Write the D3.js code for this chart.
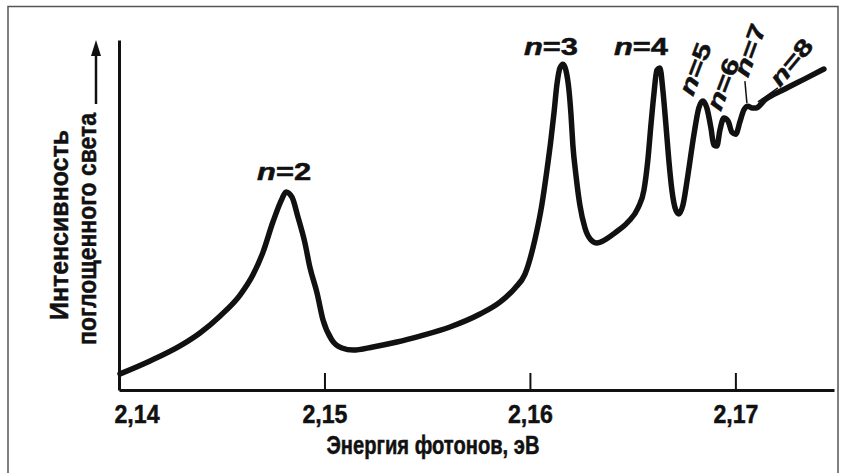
<!DOCTYPE html>
<html>
<head>
<meta charset="utf-8">
<script src="https://cdn.jsdelivr.net/npm/d3@7"></script>
<style>
  body { margin: 0; background: #fff; }
  text { font-family: "Liberation Sans Narrow", "Liberation Sans", Arial, sans-serif; font-weight: bold; fill: #111;
         stroke: #111; stroke-width: 0.5px; }
</style>
</head>
<body>
<div id="chart"></div>
<script>
// photon energy, eV
var energy = [2.14005, 2.14151, 2.14297, 2.14394, 2.14491, 2.14589, 2.14652, 2.14701, 2.14749, 2.14793,
  2.14813, 2.14842, 2.14871, 2.14905, 2.14929, 2.14964, 2.14993, 2.15036, 2.15085, 2.15139,
  2.15236, 2.15353, 2.15465, 2.15611, 2.15757, 2.15854, 2.15927, 2.15976, 2.16024, 2.16058,
  2.16083, 2.16102, 2.16117, 2.16131, 2.16146, 2.16161, 2.16175, 2.16190, 2.16200, 2.16209,
  2.16224, 2.16243, 2.16268, 2.16297, 2.16326, 2.16365, 2.16414, 2.16477, 2.16526, 2.16555,
  2.16574, 2.16589, 2.16603, 2.16618, 2.16633, 2.16647, 2.16662, 2.16676, 2.16691, 2.16710,
  2.16725, 2.16745, 2.16769, 2.16798, 2.16822, 2.16842, 2.16861, 2.16881, 2.16895, 2.16910,
  2.16925, 2.16944, 2.16964, 2.16983, 2.17002, 2.17022, 2.17041, 2.17061, 2.17080, 2.17100,
  2.17144, 2.17241, 2.17338, 2.17431];
// absorbed intensity, arbitrary units
var intensity = [4.6, 8.3, 12.6, 16.3, 21.1, 27.1, 32.9, 39.4, 48.0, 54.6,
  56.6, 55.1, 49.4, 42.0, 35.1, 27.7, 20.0, 14.3, 12.0, 11.4,
  12.3, 13.7, 15.4, 18.0, 21.7, 25.1, 29.1, 33.1, 42.9, 52.9,
  62.9, 71.4, 79.1, 87.1, 92.0, 93.1, 91.4, 85.7, 78.6, 70.0,
  61.4, 52.9, 46.3, 42.9, 42.0, 42.9, 44.9, 48.0, 52.0, 57.1,
  65.7, 75.7, 84.3, 91.4, 92.0, 85.7, 75.7, 65.7, 57.1, 51.4,
  50.3, 52.9, 61.4, 72.9, 80.6, 82.6, 80.6, 74.9, 70.0, 69.7,
  74.3, 77.7, 76.9, 73.7, 73.1, 76.6, 80.0, 81.1, 80.6, 80.6,
  82.9, 86.0, 88.9, 91.7];

var xTicks = [2.14, 2.15, 2.16, 2.17];
var peakNames = ["2", "3", "4", "5", "6", "7", "8"];
var peakEnergy = [2.14813, 2.16161, 2.16633, 2.16842, 2.16944, 2.17061, 2.17100];
var peakHeight = [56.6, 93.1, 92.0, 82.6, 77.7, 81.1, 80.6];

var xTitle = "Энергия фотонов, эВ";
var yTitle = ["Интенсивность", "поглощенного света"];

var width = 847, height = 473;

var svg = d3.select("#chart").append("svg")
    .attr("width", width)
    .attr("height", height);

// frame
svg.append("rect")
    .attr("x", 8).attr("y", 6.5)
    .attr("width", 830).attr("height", 480)
    .attr("fill", "none")
    .attr("stroke", "#555")
    .attr("stroke-width", 1.5);

var x = d3.scaleLinear().domain([2.14, 2.1748]).range([119, 834]);
var y = d3.scaleLinear().domain([0, 100]).range([390, 40]);

var fmt = function (d) { return d3.format(".2f")(d).replace(".", ","); };

// x axis, ticks pointing up
var xAxis = svg.append("g")
    .attr("transform", "translate(0," + y(0) + ")")
    .call(d3.axisBottom(x).tickValues(xTicks).tickSize(-17).tickSizeOuter(0).tickPadding(15).tickFormat(fmt));

xAxis.select(".domain").attr("stroke", "#111").attr("stroke-width", 3);
xAxis.selectAll(".tick line").attr("stroke", "#111").attr("stroke-width", 2)
    .filter(function (d) { return d === 2.14; }).remove();
xAxis.selectAll(".tick text")
    .attr("font-size", 26)
    .attr("textLength", 45)
    .attr("lengthAdjust", "spacingAndGlyphs")
    .attr("fill", "#111");
xAxis.selectAll(".tick text").filter(function (d) { return d === 2.14; })
    .attr("text-anchor", "start").attr("x", -5);

// y axis: plain line
var yAxis = svg.append("g")
    .attr("transform", "translate(" + x(2.14) + ",0)")
    .call(d3.axisLeft(y).tickValues([]).tickSizeOuter(0));
yAxis.select(".domain").attr("stroke", "#111").attr("stroke-width", 3);

svg.append("text")
    .attr("x", 433).attr("y", 454)
    .attr("text-anchor", "middle")
    .attr("font-size", 25)
    .attr("textLength", 213)
    .attr("lengthAdjust", "spacingAndGlyphs")
    .text(xTitle);

// y title, two rotated lines + arrow
svg.append("text")
    .attr("transform", "translate(68,225)rotate(-90)")
    .attr("text-anchor", "middle")
    .attr("font-size", 25)
    .attr("textLength", 190)
    .attr("lengthAdjust", "spacingAndGlyphs")
    .text(yTitle[0]);

svg.append("text")
    .attr("transform", "translate(96,229)rotate(-90)")
    .attr("text-anchor", "middle")
    .attr("font-size", 25)
    .attr("textLength", 232)
    .attr("lengthAdjust", "spacingAndGlyphs")
    .text(yTitle[1]);

svg.append("line")
    .attr("x1", 96).attr("x2", 96)
    .attr("y1", 104).attr("y2", 52)
    .attr("stroke", "#111").attr("stroke-width", 2.5);
svg.append("path")
    .attr("d", "M96,40L101,56L91,56Z")
    .attr("fill", "#111");

// spectrum
var pts = energy.map(function (e, i) { return { e: e, v: intensity[i] }; });
var line = d3.line()
    .x(function (d) { return x(d.e); })
    .y(function (d) { return y(d.v); })
    .curve(d3.curveMonotoneX);

svg.append("path")
    .datum(pts)
    .attr("d", line)
    .attr("fill", "none")
    .attr("stroke", "#111")
    .attr("stroke-width", 5.5)
    .attr("stroke-linejoin", "round")
    .attr("stroke-linecap", "round");

// peak labels: offset from peak, rotation
var labelLayout = [
  { dx: -2, dy: -12, rot: 0, anchor: "middle" },
  { dx: -12, dy: -9, rot: 0, anchor: "middle" },
  { dx: -19, dy: -13, rot: 0, anchor: "middle" },
  { dx: -10, dy: -4, rot: -69, anchor: "start" },
  { dx: -3, dy: -6, rot: -69, anchor: "start" },
  { dx: 0, dy: -28, rot: -70, anchor: "start" },
  { dx: 24, dy: -20, rot: -50, anchor: "start" }
];

var labels = svg.append("g").selectAll("text")
    .data(peakNames)
    .enter().append("text")
    .attr("transform", function (d, i) {
      var l = labelLayout[i];
      return "translate(" + (x(peakEnergy[i]) + l.dx) + "," + (y(peakHeight[i]) + l.dy) + ")rotate(" + l.rot + ")";
    })
    .attr("text-anchor", function (d, i) { return labelLayout[i].anchor; })
    .attr("font-size", 23)
    .attr("textLength", 54)
    .attr("lengthAdjust", "spacingAndGlyphs");
labels.append("tspan").attr("font-style", "italic").text("n");
labels.append("tspan").text(function (d) { return "=" + d; });

// leader lines for n=7, n=8
svg.append("line")
    .attr("x1", x(peakEnergy[5]) - 1).attr("y1", y(peakHeight[5]) - 3)
    .attr("x2", x(peakEnergy[5]) - 3).attr("y2", y(peakHeight[5]) - 25)
    .attr("stroke", "#111").attr("stroke-width", 1.5);
svg.append("line")
    .attr("x1", x(peakEnergy[6]) + 2).attr("y1", y(peakHeight[6]) - 6)
    .attr("x2", x(peakEnergy[6]) + 22).attr("y2", y(peakHeight[6]) - 20)
    .attr("stroke", "#111").attr("stroke-width", 1.5);
</script>
</body>
</html>
